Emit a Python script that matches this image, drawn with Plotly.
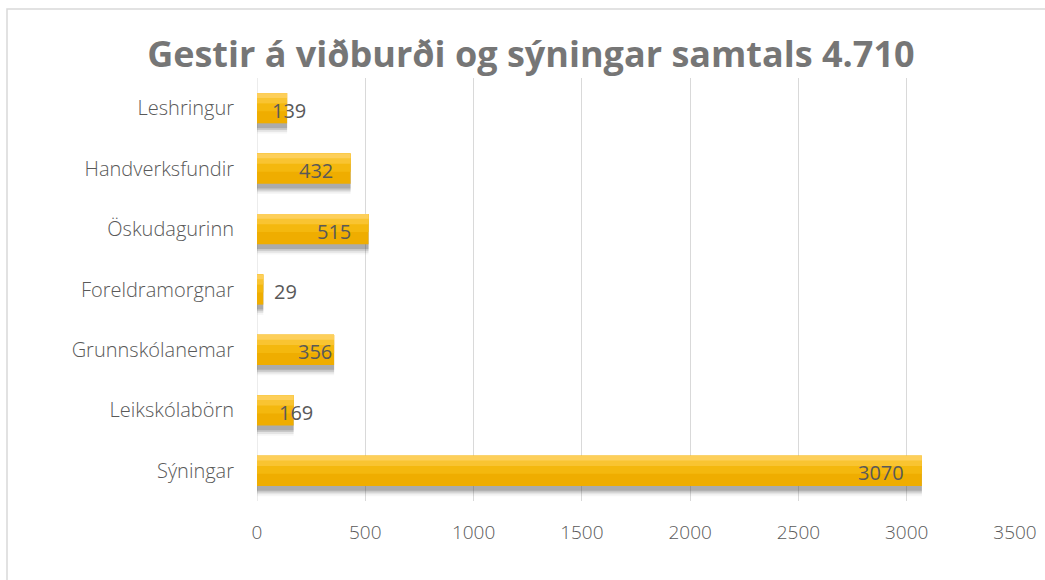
import plotly.graph_objects as go

# Data (bottom to top as drawn)
categories = ["Sýningar", "Leikskólabörn", "Grunnskólanemar", "Foreldramorgnar",
              "Öskudagurinn", "Handverksfundir", "Leshringur"]
values = [3070, 169, 356, 29, 515, 432, 139]
x_ticks = [0, 500, 1000, 1500, 2000, 2500, 3000, 3500]
title_text = "Gestir á viðburði og sýningar samtals 4.710"

fig = go.Figure()

# soft shadow layers
for off, alpha in [(-0.42, 0.05), (-0.39, 0.10), (-0.36, 0.18), (-0.33, 0.22)]:
    fig.add_trace(go.Bar(y=categories, x=values, orientation="h", width=0.5, offset=off,
                         marker=dict(color=f"rgba(70,70,70,{alpha})", line=dict(width=0)),
                         hoverinfo="skip", showlegend=False))

# main bar
fig.add_trace(go.Bar(y=categories, x=values, orientation="h", width=0.5, offset=-0.25,
                     marker=dict(color="#EFAD00", line=dict(width=0)), showlegend=False))
# gradient strips
for off, w, col in [(-0.05, 0.30, "#F4B80E"), (0.08, 0.17, "#F9C431"), (0.17, 0.08, "#FDCF5A")]:
    fig.add_trace(go.Bar(y=categories, x=values, orientation="h", width=w, offset=off,
                         marker=dict(color=col, line=dict(width=0)),
                         hoverinfo="skip", showlegend=False))

fig.update_layout(barmode="overlay")

# data labels
for c, v in zip(categories, values):
    if v < 100:
        anchor, shift = "left", 9
    elif v < 200:
        anchor, shift = "center", 2
    elif v < 400:
        anchor, shift = "right", 0
    else:
        anchor, shift = "right", -16
    fig.add_annotation(x=v, y=c, text=str(v), showarrow=False, xanchor=anchor, xshift=shift,
                       yshift=-2, font=dict(family="Open Sans", size=20, color="#595959"))

fig.update_layout(
    width=1045, height=580,
    paper_bgcolor="white", plot_bgcolor="white",
    margin=dict(l=257, r=30, t=78, b=79, autoexpand=False),
    title=dict(text=f"<b>{title_text}</b>", x=0.508, xanchor="center", y=0.907, yanchor="middle",
               font=dict(family="Open Sans", size=36, color="#767676")),
    xaxis=dict(range=[0, 3500], tickvals=x_ticks, showgrid=True, gridcolor="#D9D9D9",
               gridwidth=1, zeroline=False, showline=False, ticks="", automargin=False,
               ticklabelstandoff=18,
               tickfont=dict(family="Open Sans", size=19, weight=300, color="#595959")),
    yaxis=dict(showgrid=False, zeroline=False, showline=False, ticks="", automargin=False,
               ticklabelstandoff=22, range=[-0.5, 6.5],
               tickfont=dict(family="Open Sans", size=20, weight=300, color="#595959")),
    shapes=[dict(type="rect", xref="paper", yref="paper", x0=-(250 / 758), x1=1.2,
                 y0=-0.5, y1=1 + (69 / 423),
                 line=dict(color="#D9D9D9", width=1.5), fillcolor="rgba(0,0,0,0)", layer="below")],
)
fig.add_vline(x=0, line=dict(color="#D9D9D9", width=1), layer="below")

fig.write_html("out.html", config={"displayModeBar": False},
               post_script="document.body.style.margin='0px';")
